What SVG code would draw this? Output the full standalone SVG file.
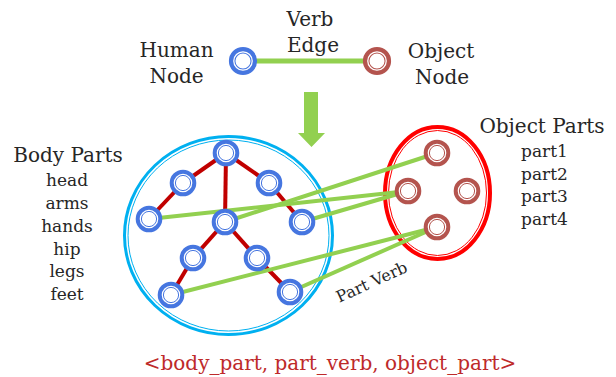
<svg xmlns="http://www.w3.org/2000/svg" width="616" height="377" viewBox="0 0 616 377">
<style>
text{font-family:"DejaVu Serif","Liberation Serif",serif;fill:#262626}
.lbl{font-size:20px}
.item{font-size:17px}
.hn{fill:#fff;stroke:#4676E0;stroke-width:4}
.hi{fill:none;stroke:#4676E0;stroke-width:1}
.on{fill:#fff;stroke:#B4544E;stroke-width:4}
.oi{fill:none;stroke:#B4544E;stroke-width:1}
.tree{stroke:#C00000;stroke-width:4;fill:none}
.pv{stroke:#92D050;stroke-width:4;fill:none}
</style>
<defs>
<g id="hnode"><circle r="11.3" class="hn"/><circle r="7.6" class="hi"/></g>
<g id="onode"><circle r="11.3" class="on"/><circle r="7.6" class="oi"/></g>
</defs>

<g id="body-circle">
<ellipse cx="228.5" cy="235.5" rx="104" ry="99" fill="none" stroke="#00B0F0" stroke-width="3"/>
<ellipse cx="228.5" cy="235.5" rx="100.5" ry="95.5" fill="none" stroke="#00B0F0" stroke-width="1"/>
</g>
<g id="object-ellipse">
<ellipse cx="437.5" cy="193" rx="52.5" ry="66" fill="none" stroke="#FF0000" stroke-width="4"/>
<ellipse cx="437.5" cy="193" rx="49" ry="62.5" fill="none" stroke="#FF0000" stroke-width="1"/>
</g>

<g id="connectors">
<line x1="243" y1="61" x2="377" y2="61" stroke="#92D050" stroke-width="5"/>
<polygon points="304,92 318,92 318,133 325,133 311.5,147 298,133 304,133" fill="#92D050"/>
<g class="tree">
<line x1="226" y1="153" x2="183" y2="183"/>
<line x1="226" y1="153" x2="269" y2="183"/>
<line x1="226" y1="153" x2="225" y2="222"/>
<line x1="183" y1="183" x2="149" y2="219"/>
<line x1="269" y1="183" x2="302" y2="222"/>
<line x1="225" y1="222" x2="193" y2="258"/>
<line x1="225" y1="222" x2="257" y2="258"/>
<line x1="193" y1="258" x2="171" y2="295"/>
<line x1="257" y1="258" x2="290" y2="292"/>
</g>
<g class="pv">
<line x1="149" y1="219" x2="408" y2="191"/>
<line x1="225" y1="222" x2="437" y2="153"/>
<line x1="302" y1="222" x2="408" y2="191"/>
<line x1="171" y1="295" x2="437" y2="227"/>
<line x1="290" y1="292" x2="437" y2="227"/>
</g>
<text style="font-size:16px" transform="translate(374,287) rotate(-24.5)" text-anchor="middle">Part Verb</text>
</g>

<g id="human-node"><use href="#hnode" transform="translate(243,61) scale(1.06)"/>
<text class="lbl" x="176.5" y="57" text-anchor="middle">Human</text>
<text class="lbl" x="176.5" y="83" text-anchor="middle">Node</text></g>
<g id="verb-edge-label">
<text class="lbl" x="310" y="26" text-anchor="middle">Verb</text>
<text class="lbl" x="313" y="52" text-anchor="middle">Edge</text></g>
<g id="object-node"><use href="#onode" transform="translate(377,61) scale(1.06)"/>
<text class="lbl" x="441" y="58" text-anchor="middle">Object</text>
<text class="lbl" x="442" y="84" text-anchor="middle">Node</text></g>

<g id="body-nodes">
<use href="#hnode" x="226" y="153"/>
<use href="#hnode" x="183" y="183"/>
<use href="#hnode" x="269" y="183"/>
<use href="#hnode" x="149" y="219"/>
<use href="#hnode" x="225" y="222"/>
<use href="#hnode" x="302" y="222"/>
<use href="#hnode" x="193" y="258"/>
<use href="#hnode" x="257" y="258"/>
<use href="#hnode" x="171" y="295"/>
<use href="#hnode" x="290" y="292"/>
</g>
<g id="object-part-nodes">
<use href="#onode" x="437" y="153"/>
<use href="#onode" x="408" y="191"/>
<use href="#onode" x="467" y="191"/>
<use href="#onode" x="437" y="227"/>
</g>

<g id="body-parts-label">
<text class="lbl" x="68" y="162" text-anchor="middle">Body Parts</text>
<text class="item" x="67" y="186" text-anchor="middle">head</text>
<text class="item" x="67" y="209" text-anchor="middle">arms</text>
<text class="item" x="67" y="232" text-anchor="middle">hands</text>
<text class="item" x="67" y="255" text-anchor="middle">hip</text>
<text class="item" x="67" y="277" text-anchor="middle">legs</text>
<text class="item" x="67" y="300" text-anchor="middle">feet</text>
</g>
<g id="object-parts-label">
<text class="lbl" x="542" y="133" text-anchor="middle">Object Parts</text>
<text class="item" x="521" y="157">part1</text>
<text class="item" x="521" y="180">part2</text>
<text class="item" x="521" y="202">part3</text>
<text class="item" x="521" y="225">part4</text>
</g>
<text id="tuple" x="330" y="370" text-anchor="middle" style="font-size:20px;fill:#BE2A2A">&lt;body_part, part_verb, object_part&gt;</text>
</svg>
